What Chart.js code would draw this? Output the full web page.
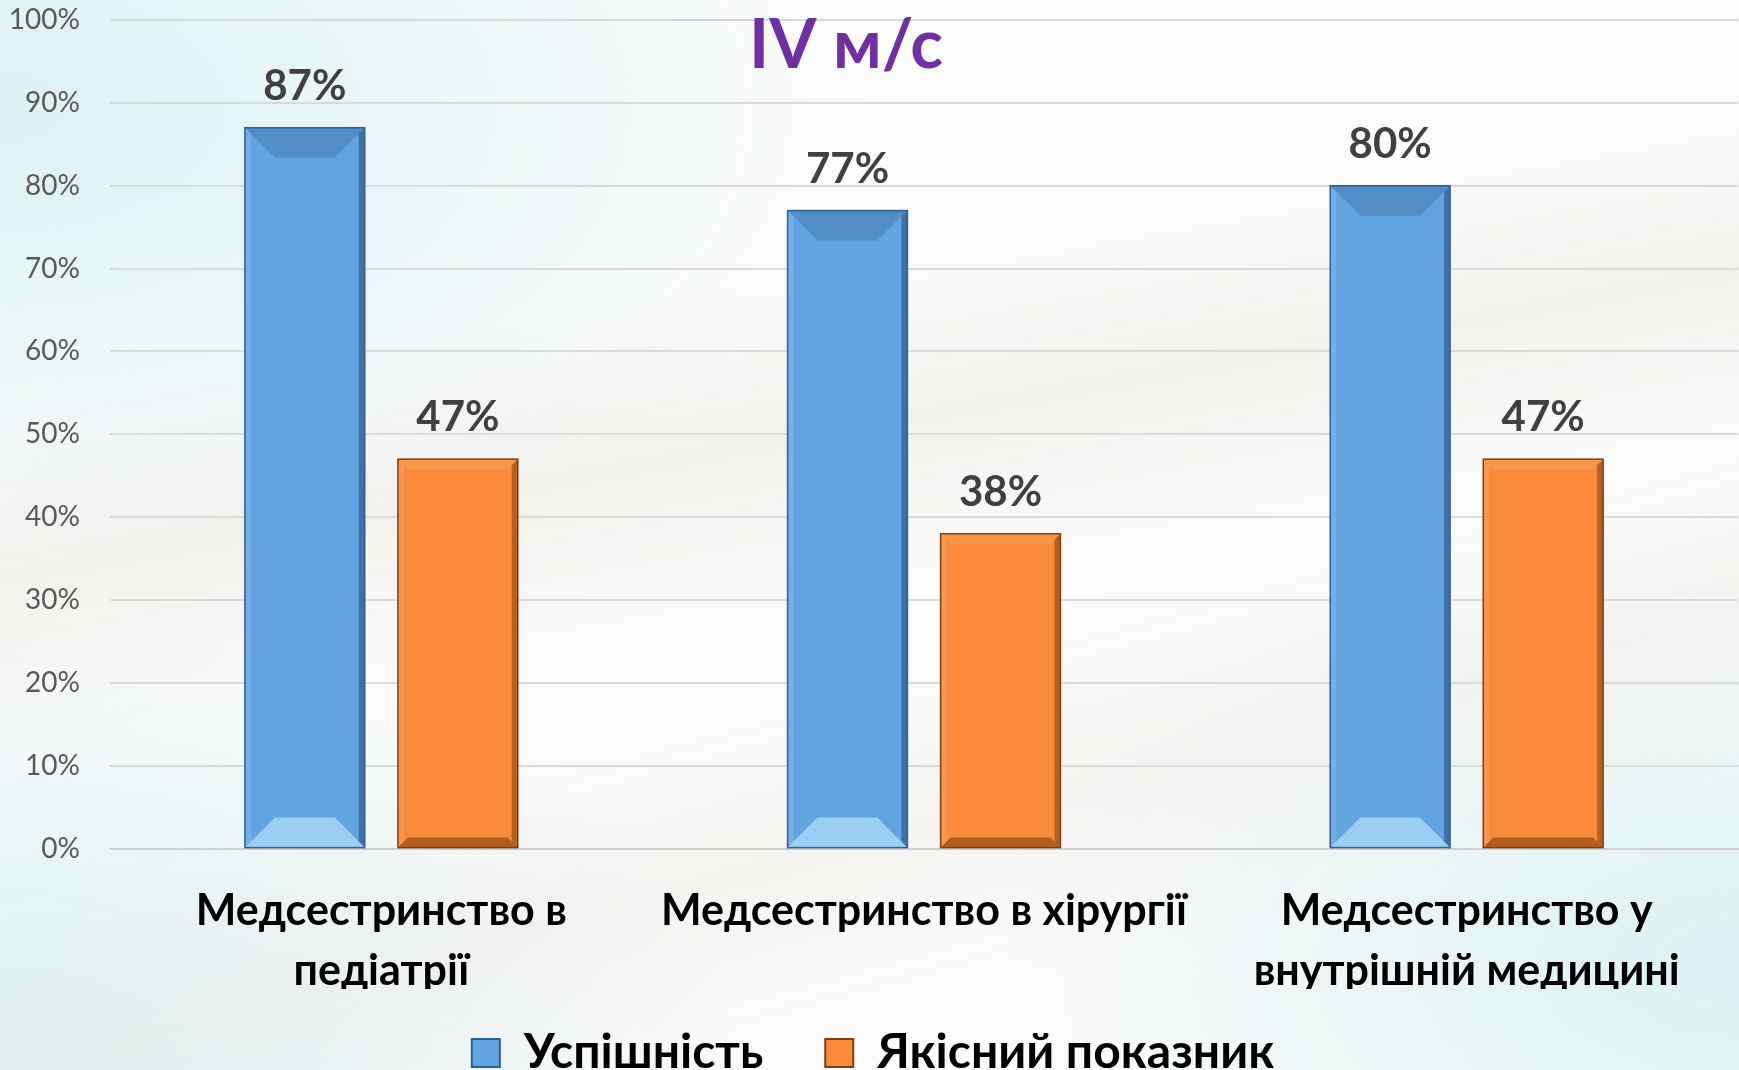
<!DOCTYPE html>
<html>
<head>
<meta charset="utf-8">
<script src="https://cdn.jsdelivr.net/npm/chart.js@4.4.1/dist/chart.umd.min.js"></script>
<style>
  html, body { margin: 0; padding: 0; overflow: hidden; }
  body {
    width: 1739px; height: 1070px;
    background:
      linear-gradient(170deg, rgba(255,255,255,0) 30%, rgba(235,233,228,0.55) 42%, rgba(255,255,255,0) 55%),
      linear-gradient(165deg, rgba(255,255,255,0) 58%, rgba(238,236,232,0.5) 70%, rgba(255,255,255,0) 82%),
      radial-gradient(ellipse at 0% 10%, #dcf1f4 0%, rgba(255,255,255,0) 35%),
      radial-gradient(ellipse at 0% 100%, #d8eff3 0%, rgba(255,255,255,0) 30%),
      radial-gradient(ellipse at 100% 90%, #dcf0f2 0%, rgba(255,255,255,0) 30%),
      #fbfbfa;
  }
  #wrap { position: absolute; left: 0; top: 0; width: 1739px; height: 1109px; }
</style>
</head>
<body>
<div id="wrap"><canvas id="chart"></canvas></div>
<script>
// data
const categories = [
  ["Медсестринство в", "педіатрії"],
  ["Медсестринство в хірургії"],
  ["Медсестринство у", "внутрішній медицині"]
];
const seriesNames = ["Успішність", "Якісний показник"];
const success = [87, 77, 80];
const quality = [47, 38, 47];
const yTicks = [0, 10, 20, 30, 40, 50, 60, 70, 80, 90, 100];
const chartTitle = "IV м/с";

const FONT = "Lato, 'Open Sans', sans-serif";

// bevel look for the bars
const bevelStyles = [
  { top: "rgba(20,50,90,0.2)", bottom: "rgba(200,240,255,0.55)", left: "rgba(255,255,255,0.12)", right: "rgba(0,20,50,0.35)", edge: "#2f5f8e", d: 30 },
  { top: "rgba(255,220,180,0.15)", bottom: "rgba(90,35,0,0.45)", left: "rgba(255,255,255,0.1)", right: "rgba(80,30,0,0.4)", edge: "#7a3f12", d: 10 }
];

const bevelPlugin = {
  id: "bevel",
  afterDatasetsDraw(chart) {
    const ctx = chart.ctx;
    chart.data.datasets.forEach((ds, i) => {
      const st = bevelStyles[i];
      chart.getDatasetMeta(i).data.forEach(bar => {
        const p = bar.getProps(["x", "y", "base", "width"], true);
        const l = p.x - p.width / 2, r = p.x + p.width / 2, t = p.y, b = p.base;
        const d = Math.min(st.d, (b - t) / 2), s = 6;
        ctx.save();
        const poly = (pts, fill) => {
          ctx.beginPath();
          ctx.moveTo(pts[0][0], pts[0][1]);
          pts.slice(1).forEach(q => ctx.lineTo(q[0], q[1]));
          ctx.closePath();
          ctx.fillStyle = fill;
          ctx.fill();
        };
        poly([[l, t], [r, t], [r - d, t + d], [l + d, t + d]], st.top);
        poly([[l, b], [r, b], [r - d, b - d], [l + d, b - d]], st.bottom);
        poly([[l, t], [l + s, t + s], [l + s, b - s], [l, b]], st.left);
        poly([[r, t], [r - s, t + s], [r - s, b - s], [r, b]], st.right);
        ctx.strokeStyle = st.edge;
        ctx.lineWidth = 1.5;
        ctx.strokeRect(l, t, r - l, b - t);
        ctx.restore();
      });
    });
  }
};

// value labels above bars
const valueLabels = {
  id: "valueLabels",
  afterDatasetsDraw(chart) {
    const ctx = chart.ctx;
    ctx.save();
    ctx.font = "bold 42px " + FONT;
    ctx.fillStyle = "#404040";
    ctx.textAlign = "center";
    ctx.textBaseline = "alphabetic";
    chart.data.datasets.forEach((ds, i) => {
      chart.getDatasetMeta(i).data.forEach((bar, j) => {
        ctx.fillText(ds.data[j] + "%", bar.x, bar.y - 28);
      });
    });
    ctx.restore();
  }
};

// title sits inside the plot area
const titlePlugin = {
  id: "insideTitle",
  afterDraw(chart) {
    const ctx = chart.ctx;
    ctx.save();
    ctx.font = "bold 68px " + FONT;
    ctx.fillStyle = "#7030a0";
    ctx.textAlign = "center";
    ctx.textBaseline = "middle";
    ctx.fillText(chartTitle, 846, 46);
    ctx.restore();
  }
};

// pull the legend a little closer to the category labels
const legendShift = {
  id: "legendShift",
  afterLayout(chart) {
    chart.legend.top -= 22;
    chart.legend.bottom -= 22;
  }
};

new Chart(document.getElementById("chart"), {
  type: "bar",
  data: {
    labels: categories,
    datasets: [
      { label: seriesNames[0], data: success, backgroundColor: "#62a4e2", borderColor: "#2f5f8e", borderWidth: 0 },
      { label: seriesNames[1], data: quality, backgroundColor: "#f98a3a", borderColor: "#7a3f12", borderWidth: 0 }
    ]
  },
  options: {
    responsive: true,
    maintainAspectRatio: false,
    animation: false,
    categoryPercentage: 0.564,
    barPercentage: 0.783,
    layout: { padding: { left: 8, right: 1, top: 0, bottom: 0 } },
    plugins: {
      title: { display: false },
      tooltip: { enabled: false },
      legend: {
        position: "bottom",
        labels: {
          boxWidth: 28,
          boxHeight: 28,
          padding: 62,
          color: "#000",
          font: { family: FONT, size: 48, weight: "bold" },
          generateLabels(chart) {
            return Chart.defaults.plugins.legend.labels.generateLabels(chart).map(item => {
              item.lineWidth = 2;
              item.strokeStyle = bevelStyles[item.datasetIndex].edge;
              return item;
            });
          }
        }
      }
    },
    scales: {
      x: {
        grid: { display: false },
        border: { display: true, color: "#d0d0d0", width: 2 },
        afterFit(scale) { scale.height -= 36; },
        ticks: {
          color: "#000",
          padding: 24,
          maxRotation: 0,
          font: { family: FONT, size: 43, weight: "bold", lineHeight: 1.4 }
        }
      },
      y: {
        min: 0,
        max: 100,
        afterBuildTicks(scale) { scale.ticks = yTicks.map(v => ({ value: v })); },
        afterFit(scale) {
          scale.width = 102;
          scale.paddingTop = 20;
          scale.paddingBottom = 0;
        },
        grid: { color: "#d9d9d9", lineWidth: 2, drawTicks: false },
        border: { display: false },
        ticks: {
          padding: 30,
          color: "#595959",
          font: { family: FONT, size: 28 },
          callback: v => v + "%"
        }
      }
    }
  },
  plugins: [bevelPlugin, valueLabels, titlePlugin, legendShift]
});
</script>
</body>
</html>
